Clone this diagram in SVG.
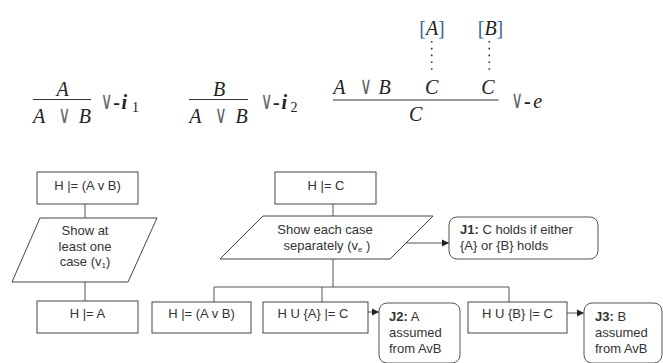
<svg xmlns="http://www.w3.org/2000/svg" width="663" height="363" viewBox="0 0 663 363">
<defs>
<style>
.m{font-family:"Liberation Serif","DejaVu Serif",serif;font-size:20px;fill:#222;font-style:italic}
.or{font-family:"DejaVu Sans","Liberation Serif",sans-serif;font-style:normal;font-size:19px;fill:#666;text-anchor:middle}
.bi{font-weight:bold;font-style:italic}
.b{font-weight:bold;font-style:normal}
.sub{font-style:normal;font-size:14px}
.rule{stroke:#333;stroke-width:1.2}
.dots{stroke:#333;stroke-width:1.6;stroke-dasharray:1.6 5.2;stroke-linecap:butt}
.br{font-style:normal;fill:#3a6699}
.box{fill:#fff;stroke:#444;stroke-width:1}
.rbox{fill:#fff;stroke:#555;stroke-width:1}
.t{font-family:"Liberation Sans",Arial,sans-serif;font-size:13px;fill:#333}
.c{text-anchor:middle}
.ln{fill:none;stroke:#555;stroke-width:1}
.ss{font-size:8px}
</style>
<marker id="ah" markerWidth="8" markerHeight="8" refX="7" refY="4" orient="auto" markerUnits="userSpaceOnUse">
<path d="M0,0.5 L7,4 L0,7.5 Z" fill="#222"/>
</marker>
</defs>
<rect width="663" height="363" fill="#fff"/>

<g id="rule-or-i1">
<text class="m" x="62.7" y="96" text-anchor="middle">A</text>
<line class="rule" x1="33" y1="99.5" x2="91" y2="99.5"/>
<text class="m" x="33" y="123">A</text>
<text class="or" transform="translate(64.5,122.5) scale(0.85,1.3)">∨</text>
<text class="m" x="91" y="123" text-anchor="end">B</text>
<text class="or" transform="translate(106.7,109) scale(0.85,1.3)">∨</text>
<text class="m b" x="113.3" y="109">-</text>
<text class="m bi" x="121.5" y="109">i</text>
<text class="m sub" x="132" y="112">1</text>
</g>

<g id="rule-or-i2">
<text class="m" x="219" y="96" text-anchor="middle">B</text>
<line class="rule" x1="189" y1="99.5" x2="248" y2="99.5"/>
<text class="m" x="189.3" y="123">A</text>
<text class="or" transform="translate(221,122.5) scale(0.85,1.3)">∨</text>
<text class="m" x="247.7" y="123" text-anchor="end">B</text>
<text class="or" transform="translate(266.7,109) scale(0.85,1.3)">∨</text>
<text class="m b" x="273" y="109">-</text>
<text class="m bi" x="281.5" y="109">i</text>
<text class="m sub" x="290.5" y="112">2</text>
</g>

<g id="rule-or-e">
<text class="m" x="432" y="35" text-anchor="middle"><tspan class="br">[</tspan>A<tspan class="br">]</tspan></text>
<text class="m" x="490.5" y="35" text-anchor="middle"><tspan class="br">[</tspan>B<tspan class="br">]</tspan></text>
<line class="dots" x1="431.7" y1="41" x2="431.7" y2="74"/>
<line class="dots" x1="489.3" y1="41" x2="489.3" y2="74"/>
<text class="m" x="333.3" y="94">A</text>
<text class="or" transform="translate(365.8,93.5) scale(0.85,1.3)">∨</text>
<text class="m" x="390.7" y="94" text-anchor="end">B</text>
<text class="m" x="431.7" y="94" text-anchor="middle">C</text>
<text class="m" x="488" y="94" text-anchor="middle">C</text>
<line class="rule" x1="333" y1="100" x2="498.5" y2="100"/>
<text class="m" x="415.7" y="121" text-anchor="middle">C</text>
<text class="or" transform="translate(517.2,108) scale(0.85,1.3)">∨</text>
<text class="m b" x="524" y="108">-</text>
<text class="m" x="533.3" y="108">e</text>
</g>

<g id="connectors">
<line class="ln" x1="85" y1="204" x2="85" y2="218"/>
<line class="ln" x1="85" y1="282" x2="85" y2="301"/>
<line class="ln" x1="333" y1="204" x2="333" y2="216"/>
<line class="ln" x1="333" y1="259" x2="333" y2="287"/>
<polyline class="ln" points="214,302 214,287 509,287 509,302"/>
<line class="ln" x1="322" y1="287" x2="322" y2="302"/>
<line class="ln" x1="406" y1="243" x2="449" y2="243" marker-end="url(#ah)"/>
<line class="ln" x1="368" y1="312" x2="379" y2="312" marker-end="url(#ah)"/>
<line class="ln" x1="567" y1="313" x2="584" y2="313" marker-end="url(#ah)"/>
</g>

<g id="n-left-top">
<rect class="box" x="37" y="172" width="101" height="32"/>
<text class="t c" x="87.5" y="190">H |= (A v B)</text>
</g>
<g id="n-left-show">
<polygon class="box" points="40,218 157,218 128,282 12,282"/>
<text class="t c" x="85" y="235">Show at</text>
<text class="t c" x="85" y="251">least one</text>
<text class="t c" x="85" y="266">case (v<tspan class="ss" dy="2">1</tspan><tspan dy="-2">)</tspan></text>
</g>
<g id="n-left-bottom">
<rect class="box" x="37" y="301" width="101" height="32"/>
<text class="t c" x="87.5" y="318">H |= A</text>
</g>

<g id="n-right-top">
<rect class="box" x="275" y="172" width="101" height="32"/>
<text class="t c" x="326" y="190">H |= C</text>
</g>
<g id="n-right-show">
<polygon class="box" points="263,216 433,216 390,259 220,259"/>
<text class="t c" x="325" y="234">Show each case</text>
<text class="t c" x="327" y="250">separately (v<tspan class="ss" dy="2">e</tspan><tspan dy="-2"> )</tspan></text>
</g>
<g id="n-j1">
<rect class="rbox" x="449" y="217" width="149" height="42" rx="8"/>
<text class="t" x="460" y="234"><tspan font-weight="bold">J1:</tspan> C holds if either</text>
<text class="t" x="460" y="250">{A} or {B} holds</text>
</g>
<g id="n-case-or">
<rect class="box" x="152" y="302" width="99" height="31"/>
<text class="t c" x="201.5" y="318">H |= (A v B)</text>
</g>
<g id="n-case-a">
<rect class="box" x="263" y="302" width="105" height="31"/>
<text class="t c" x="313" y="318">H U {A} |= C</text>
</g>
<g id="n-j2">
<rect class="rbox" x="379" y="303" width="81" height="60" rx="8"/>
<text class="t" x="389" y="321"><tspan font-weight="bold">J2:</tspan> A</text>
<text class="t" x="389" y="337">assumed</text>
<text class="t" x="389" y="353">from AvB</text>
</g>
<g id="n-case-b">
<rect class="box" x="468" y="302" width="99" height="31"/>
<text class="t c" x="517.5" y="318">H U {B} |= C</text>
</g>
<g id="n-j3">
<rect class="rbox" x="584" y="303" width="78" height="60" rx="8"/>
<text class="t" x="595" y="321"><tspan font-weight="bold">J3:</tspan> B</text>
<text class="t" x="595" y="337">assumed</text>
<text class="t" x="595" y="353">from AvB</text>
</g>
</svg>
